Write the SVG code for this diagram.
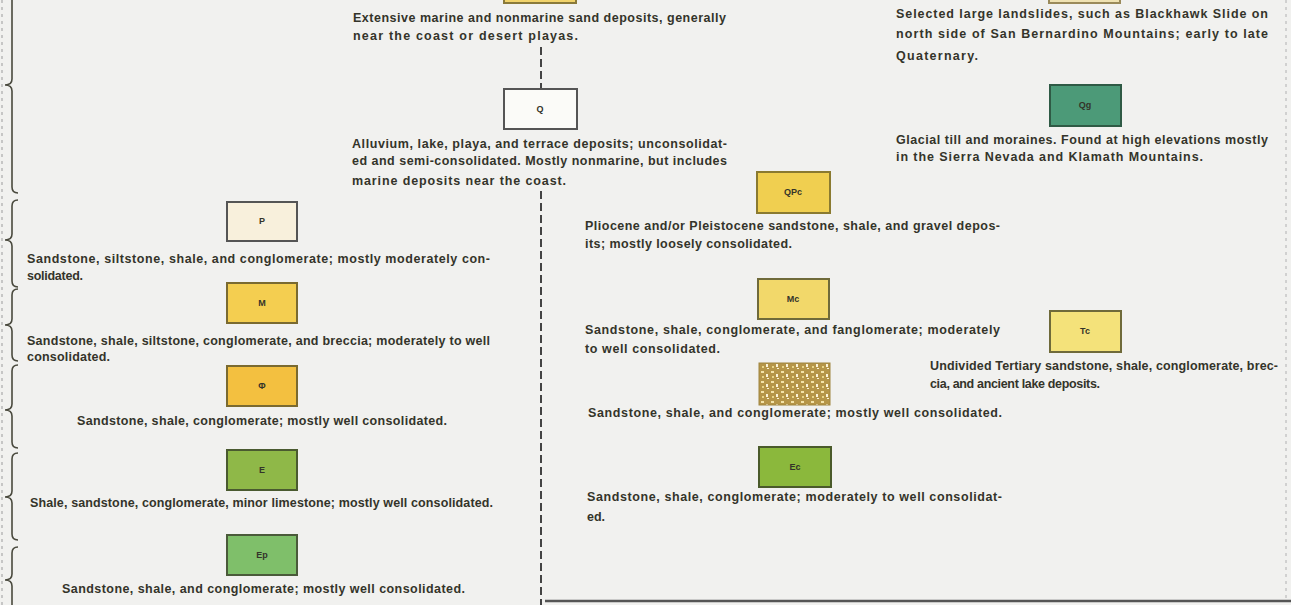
<svg xmlns="http://www.w3.org/2000/svg" width="1291" height="605" viewBox="0 0 1291 605">
<style>
.t{font-family:"Liberation Sans",Arial,sans-serif;font-weight:bold;font-size:12.5px;fill:#34342a}
.lbl{font-family:"Liberation Sans",Arial,sans-serif;font-weight:bold;font-size:9px;fill:#34342a;text-anchor:middle}
.box{stroke-width:2}
.brace{fill:none;stroke:#4a4a3e;stroke-width:1.6}
.dash{stroke:#444;stroke-width:2;stroke-dasharray:8 4;fill:none}
</style>
<defs>
<pattern id="speck" width="10" height="10" patternUnits="userSpaceOnUse">
<rect width="10" height="10" fill="#b59548"/>
<rect x="1" y="1" width="3" height="2" fill="#f3e3a8"/>
<rect x="6" y="4" width="2" height="3" fill="#fbf3d8"/>
<rect x="2" y="6" width="2" height="2" fill="#e8d488"/>
<rect x="7" y="8" width="2" height="1" fill="#fbf3d8"/>
</pattern>
</defs>
<rect width="1291" height="605" fill="#f1f1ef"/>

<g id="frame">
<line x1="2" y1="0" x2="2" y2="605" stroke="#aaa" stroke-width="1.2" stroke-dasharray="3 4"/>
<line x1="1286" y1="0" x2="1286" y2="600" stroke="#bbb" stroke-width="1.2" stroke-dasharray="3 4"/>
<line x1="545" y1="601" x2="1291" y2="601" stroke="#555" stroke-width="2.5"/>
</g>

<g id="braces">
<path class="brace" d="M12 0 L12 79 Q12 85 5 85 Q12 85 12 91 L12 187 Q12 193 18 193"/>
<path class="brace" d="M18 200 Q12 200 12 206 L12 234 Q12 240 5 240 Q12 240 12 246 L12 281 Q12 287 18 287"/>
<path class="brace" d="M18 289 Q12 289 12 295 L12 319 Q12 325 5 325 Q12 325 12 331 L12 355 Q12 361 18 361"/>
<path class="brace" d="M18 365 Q12 365 12 371 L12 404 Q12 410 5 410 Q12 410 12 416 L12 442 Q12 448 18 448"/>
<path class="brace" d="M18 453 Q12 453 12 459 L12 491 Q12 497 5 497 Q12 497 12 503 L12 534 Q12 540 18 540"/>
<path class="brace" d="M18 547 Q12 547 12 553 L12 574 Q12 580 5 580 Q12 580 12 586 L12 605"/>
</g>

<g id="connectors">
<line class="dash" x1="541" y1="47" x2="541" y2="88"/>
<line class="dash" x1="541" y1="191" x2="541" y2="605"/>
</g>

<g id="node-Qs">
<rect class="box" x="504" y="-40" width="72" height="43" fill="#f1d36b" stroke="#8a7a3a"/>
<text class="t" x="353" y="22" textLength="373" lengthAdjust="spacing">Extensive marine and nonmarine sand deposits, generally</text>
<text class="t" x="353" y="40" textLength="225" lengthAdjust="spacing">near the coast or desert playas.</text>
</g>

<g id="node-Qls">
<rect class="box" x="1049" y="-40" width="71" height="43" fill="#efe2b2" stroke="#9a8a5a"/>
<text class="t" x="896" y="18" textLength="372" lengthAdjust="spacing">Selected large landslides, such as Blackhawk Slide on</text>
<text class="t" x="896" y="38" textLength="372" lengthAdjust="spacing">north side of San Bernardino Mountains; early to late</text>
<text class="t" x="896" y="60" textLength="82" lengthAdjust="spacing">Quaternary.</text>
</g>

<g id="node-Q">
<rect class="box" x="504" y="89" width="73" height="40" fill="#fbfbf8" stroke="#555"/>
<text class="lbl" x="540" y="112">Q</text>
<text class="t" x="352" y="148" textLength="375" lengthAdjust="spacing">Alluvium, lake, playa, and terrace deposits; unconsolidat-</text>
<text class="t" x="352" y="165" textLength="375" lengthAdjust="spacing">ed and semi-consolidated. Mostly nonmarine, but includes</text>
<text class="t" x="352" y="185" textLength="214" lengthAdjust="spacing">marine deposits near the coast.</text>
</g>

<g id="node-Qg">
<rect class="box" x="1050" y="85" width="71" height="41" fill="#4c9a78" stroke="#2f5a45"/>
<text class="lbl" x="1085" y="108">Qg</text>
<text class="t" x="896" y="144" textLength="372" lengthAdjust="spacing">Glacial till and moraines. Found at high elevations mostly</text>
<text class="t" x="896" y="161" textLength="307" lengthAdjust="spacing">in the Sierra Nevada and Klamath Mountains.</text>
</g>

<g id="node-QPc">
<rect class="box" x="757" y="172" width="73" height="41" fill="#f0cf50" stroke="#8a7a30"/>
<text class="lbl" x="793" y="195">QPc</text>
<text class="t" x="585" y="230" textLength="415" lengthAdjust="spacing">Pliocene and/or Pleistocene sandstone, shale, and gravel depos-</text>
<text class="t" x="585" y="248" textLength="207" lengthAdjust="spacing">its; mostly loosely consolidated.</text>
</g>

<g id="node-Mc">
<rect class="box" x="758" y="279" width="71" height="40" fill="#f2d86a" stroke="#6f6a3a"/>
<text class="lbl" x="793" y="302">Mc</text>
<text class="t" x="585" y="334" textLength="415" lengthAdjust="spacing">Sandstone, shale, conglomerate, and fanglomerate; moderately</text>
<text class="t" x="585" y="353" textLength="135" lengthAdjust="spacing">to well consolidated.</text>
</g>

<g id="node-Tc">
<rect class="box" x="1050" y="311" width="71" height="41" fill="#f4e27a" stroke="#6f6a3a"/>
<text class="lbl" x="1085" y="334">Tc</text>
<text class="t" x="930" y="370" textLength="348" lengthAdjust="spacing">Undivided Tertiary sandstone, shale, conglomerate, brec-</text>
<text class="t" x="930" y="388" textLength="170" lengthAdjust="spacing">cia, and ancient lake deposits.</text>
</g>

<g id="node-Oc">
<rect x="759" y="363" width="71" height="42" fill="url(#speck)" stroke="#a08640" stroke-width="1"/>
<text class="t" x="588" y="417" textLength="414" lengthAdjust="spacing">Sandstone, shale, and conglomerate; mostly well consolidated.</text>
</g>

<g id="node-Ec">
<rect class="box" x="759" y="447" width="72" height="40" fill="#8bb83c" stroke="#4a5a2a"/>
<text class="lbl" x="795" y="470">Ec</text>
<text class="t" x="587" y="501" textLength="415" lengthAdjust="spacing">Sandstone, shale, conglomerate; moderately to well consolidat-</text>
<text class="t" x="587" y="521" textLength="18" lengthAdjust="spacing">ed.</text>
</g>

<g id="node-P">
<rect class="box" x="227" y="202" width="70" height="39" fill="#f8f0dc" stroke="#555"/>
<text class="lbl" x="262" y="224">P</text>
<text class="t" x="27" y="263" textLength="463" lengthAdjust="spacing">Sandstone, siltstone, shale, and conglomerate; mostly moderately con-</text>
<text class="t" x="27" y="280" textLength="56" lengthAdjust="spacing">solidated.</text>
</g>

<g id="node-M">
<rect class="box" x="227" y="283" width="70" height="40" fill="#f4ce50" stroke="#7a6a30"/>
<text class="lbl" x="262" y="306">M</text>
<text class="t" x="27" y="345" textLength="463" lengthAdjust="spacing">Sandstone, shale, siltstone, conglomerate, and breccia; moderately to well</text>
<text class="t" x="27" y="361" textLength="83" lengthAdjust="spacing">consolidated.</text>
</g>

<g id="node-Phi">
<rect class="box" x="227" y="366" width="70" height="40" fill="#f3c040" stroke="#7a6a30"/>
<text class="lbl" x="262" y="389">Φ</text>
<text class="t" x="77" y="425" textLength="370" lengthAdjust="spacing">Sandstone, shale, conglomerate; mostly well consolidated.</text>
</g>

<g id="node-E">
<rect class="box" x="227" y="450" width="70" height="40" fill="#8fb848" stroke="#4a5a30"/>
<text class="lbl" x="262" y="473">E</text>
<text class="t" x="30" y="507" textLength="463" lengthAdjust="spacing">Shale, sandstone, conglomerate, minor limestone; mostly well consolidated.</text>
</g>

<g id="node-Ep">
<rect class="box" x="227" y="535" width="70" height="40" fill="#7fbf6a" stroke="#4a5a3a"/>
<text class="lbl" x="262" y="558">Ep</text>
<text class="t" x="62" y="593" textLength="403" lengthAdjust="spacing">Sandstone, shale, and conglomerate; mostly well consolidated.</text>
</g>
</svg>
